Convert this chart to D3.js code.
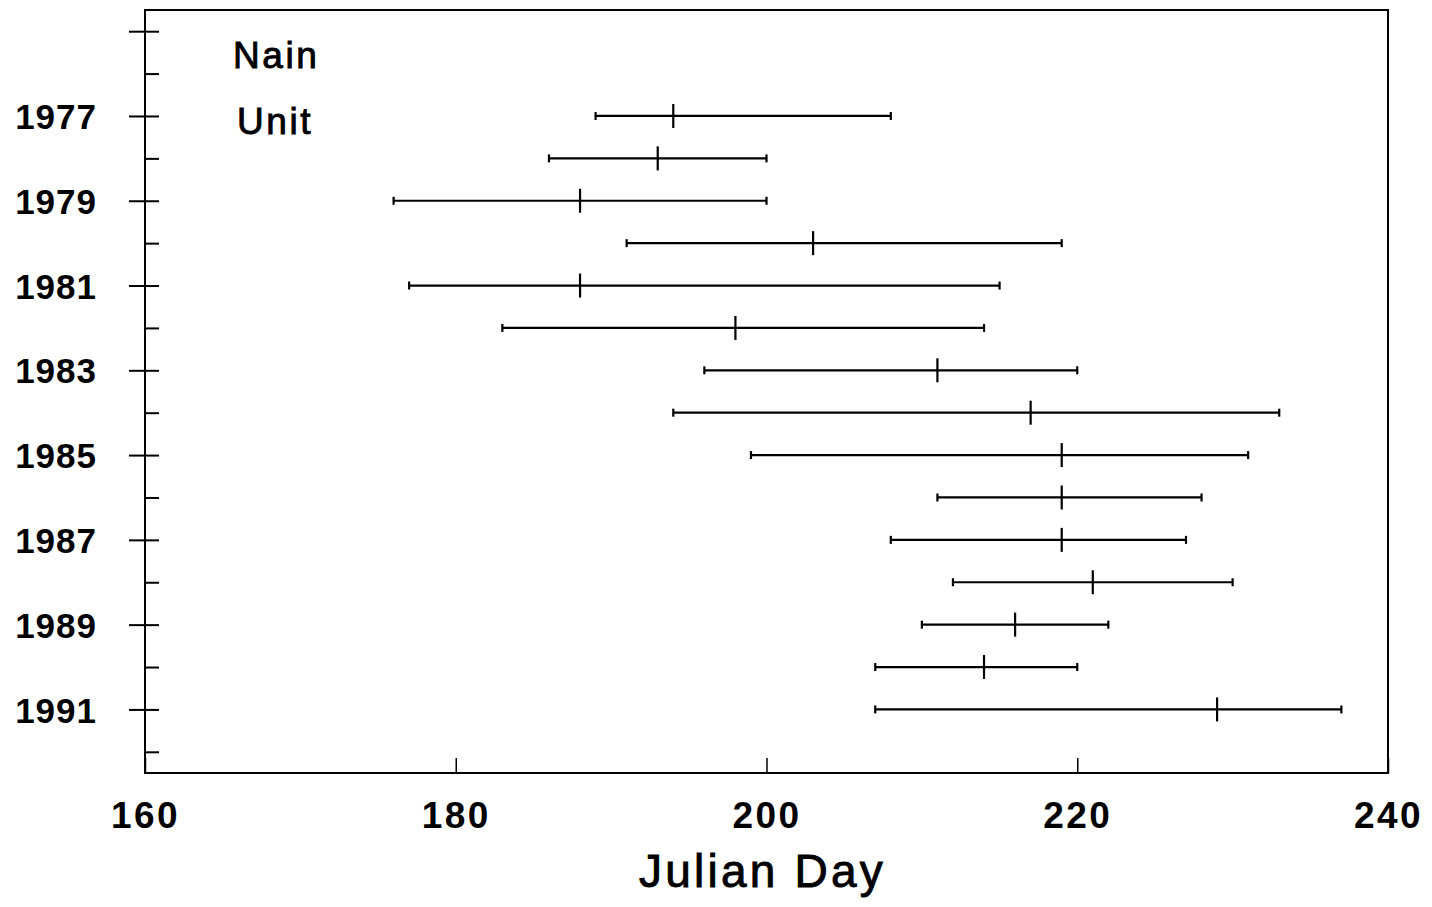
<!DOCTYPE html>
<html>
<head>
<meta charset="utf-8">
<script src="https://cdn.jsdelivr.net/npm/d3@7"></script>
<style>
  html, body { margin: 0; padding: 0; background: #fff; }
  svg { display: block; }
  text { font-family: "Liberation Sans", Arial, sans-serif; fill: #000; }
</style>
</head>
<body>
<svg id="chart" width="1432" height="907"></svg>
<script>
// Arrival window per year at Nain: earliest, median and latest Julian day
const years   = [1977, 1978, 1979, 1980, 1981, 1982, 1983, 1984, 1985, 1986, 1987, 1988, 1989, 1990, 1991];
const earliest = [189, 186, 176, 191, 177, 183, 196, 194, 199, 211, 208, 212, 210, 207, 207];
const median   = [194, 193, 188, 203, 188, 198, 211, 217, 219, 219, 219, 221, 216, 214, 229];
const latest   = [208, 200, 200, 219, 215, 214, 220, 233, 231, 228, 227, 230, 222, 220, 237];

const xTicks = [160, 180, 200, 220, 240];
const yMajorTicks = [1975, 1977, 1979, 1981, 1983, 1985, 1987, 1989, 1991];
const yAllTicks = d3.range(1975, 1993);
const labelLines = ["Nain", "Unit"];
const xTitle = "Julian Day";

const svg = d3.select("#chart");
const plotLeft = 145, plotRight = 1388, plotTop = 10, plotBottom = 773;

const x = d3.scaleLinear().domain([160, 240]).range([plotLeft, plotRight]);
const y = d3.scaleLinear().domain([1974.5, 1992.5]).range([plotTop, plotBottom]);

const rows = years.map((yr, i) => ({ year: yr, lo: earliest[i], mid: median[i], hi: latest[i] }));

// Frame
svg.append("rect")
  .attr("x", plotLeft).attr("y", plotTop)
  .attr("width", plotRight - plotLeft).attr("height", plotBottom - plotTop)
  .attr("fill", "none").attr("stroke", "#000").attr("stroke-width", 2);

// Y axis: labelled major ticks crossing the frame, minor ticks inside
const yLeft = svg.append("g")
  .attr("transform", `translate(${plotLeft},0)`)
  .call(d3.axisLeft(y).tickValues(yMajorTicks).tickSize(16).tickPadding(32)
    .tickFormat(d => d === 1975 ? "" : String(d)));
yLeft.select(".domain").remove();
yLeft.selectAll("line").attr("stroke-width", 2);
yLeft.selectAll("text")
  .attr("font-size", 35).attr("font-weight", "bold")
  .attr("letter-spacing", 1).attr("dy", "0.36em");

const yRight = svg.append("g")
  .attr("transform", `translate(${plotLeft},0)`)
  .call(d3.axisRight(y).tickValues(yAllTicks).tickSize(14).tickFormat(""));
yRight.select(".domain").remove();
yRight.selectAll("line").attr("stroke-width", 2);

// X axis: ticks point up into the plot, labels below
const xAxis = svg.append("g")
  .attr("transform", `translate(0,${plotBottom})`)
  .call(d3.axisBottom(x).tickValues(xTicks).tickSizeInner(-15).tickSizeOuter(0).tickPadding(29));
xAxis.select(".domain").remove();
xAxis.selectAll("line").attr("stroke-width", 1.5);
xAxis.selectAll("text")
  .attr("font-size", 37).attr("font-weight", "bold").attr("letter-spacing", 2.5);

// X title
svg.append("text")
  .attr("x", (plotLeft + plotRight) / 2 - 4).attr("y", 887)
  .attr("text-anchor", "middle")
  .attr("font-size", 46).attr("letter-spacing", 3.2)
  .attr("stroke", "#000").attr("stroke-width", 0.9)
  .text(xTitle);

// Panel label
svg.selectAll("text.panel")
  .data(labelLines)
  .enter().append("text")
  .attr("class", "panel")
  .attr("x", (d, i) => i === 0 ? 233 : 237)
  .attr("y", (d, i) => i === 0 ? 68 : 134)
  .attr("font-size", 37).attr("letter-spacing", 2.6)
  .attr("stroke", "#000").attr("stroke-width", 0.9)
  .text(d => d);

// Range bars
const bars = svg.append("g").attr("stroke", "#000");
const g = bars.selectAll("g").data(rows).enter().append("g");
g.append("line")
  .attr("x1", d => x(d.lo)).attr("x2", d => x(d.hi))
  .attr("y1", d => y(d.year)).attr("y2", d => y(d.year))
  .attr("stroke-width", 2.2);
g.append("line")
  .attr("x1", d => x(d.lo)).attr("x2", d => x(d.lo))
  .attr("y1", d => y(d.year) - 4).attr("y2", d => y(d.year) + 4)
  .attr("stroke-width", 2.2);
g.append("line")
  .attr("x1", d => x(d.hi)).attr("x2", d => x(d.hi))
  .attr("y1", d => y(d.year) - 4).attr("y2", d => y(d.year) + 4)
  .attr("stroke-width", 2.2);
g.append("line")
  .attr("x1", d => x(d.mid)).attr("x2", d => x(d.mid))
  .attr("y1", d => y(d.year) - 12).attr("y2", d => y(d.year) + 12)
  .attr("stroke-width", 2.2);
</script>
</body>
</html>
